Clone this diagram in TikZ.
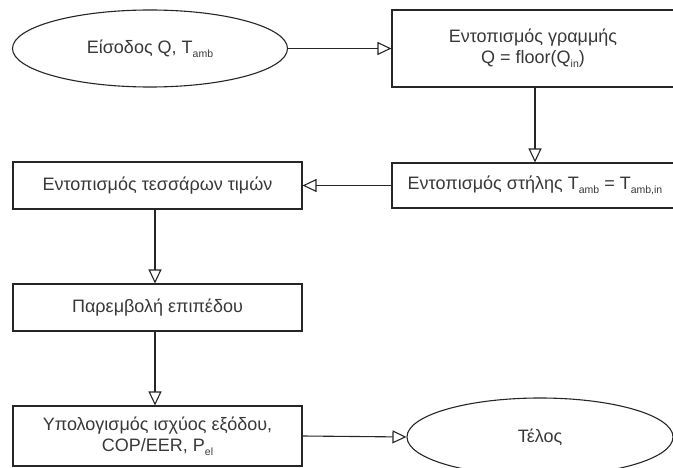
\documentclass[tikz,border=0pt]{standalone}
\usepackage{fontspec}
\setmainfont{Liberation Sans}
\usetikzlibrary{arrows.meta,shapes.geometric}
\newcommand{\sbs}[1]{\raisebox{-0.4ex}{\fontsize{10.5}{11}\selectfont #1}}
\tikzset{
  every node/.style={font=\fontsize{18}{21}\selectfont, text=black!78},
  box/.style={draw=black!85, line width=1.1pt, rectangle, inner sep=0pt, align=center},
  term/.style={draw=black!85, line width=1.1pt, ellipse, inner sep=0pt, align=center},
  flow/.style={draw=black!85, line width=1.1pt, -{Triangle[open, length=14pt, width=13pt]}}
}
\begin{document}
\begin{tikzpicture}[x=1pt, y=-1pt]
\useasboundingbox (0,0) rectangle (673,468);
% start / end terminals
\node[term, minimum width=275pt, minimum height=77pt] (start) at (150,48.5) {Είσοδος Q, T\sbs{amb}};
\node[term, minimum width=266pt, minimum height=78pt] (stop) at (540,437) {Τέλος};
% process boxes
\node[box, minimum width=282pt, minimum height=77pt] (row) at (533,48.5)
  {Εντοπισμός γραμμής\\Q = floor(Q\sbs{in})};
\node[box, minimum width=282pt, minimum height=45pt] (col) at (533,185.5)
  {\hspace*{4pt}Εντοπισμός στήλης T\sbs{amb} = T\sbs{amb,in}};
\node[box, minimum width=289pt, minimum height=47pt] (four) at (157.5,185.5)
  {Εντοπισμός τεσσάρων τιμών};
\node[box, minimum width=289pt, minimum height=47pt] (interp) at (157.5,307.5)
  {Παρεμβολή επιπέδου};
\node[box, minimum width=289pt, minimum height=60pt] (calc) at (157.5,436)
  {Υπολογισμός ισχύος εξόδου,\\COP/EER, P\sbs{el}};
% connectors
\draw[flow] (start.east) -- (row.west);
\draw[flow] ([xshift=2pt]row.south) -- ([xshift=2pt]col.north);
\draw[flow] (col.west) -- (four.east);
\draw[flow] ([xshift=-2.5pt]four.south) -- ([xshift=-2.5pt]interp.north);
\draw[flow] ([xshift=-2.5pt]interp.south) -- ([xshift=-2.5pt]calc.north);
\draw[flow] (calc.east) -- (stop.west);
\end{tikzpicture}
\end{document}
